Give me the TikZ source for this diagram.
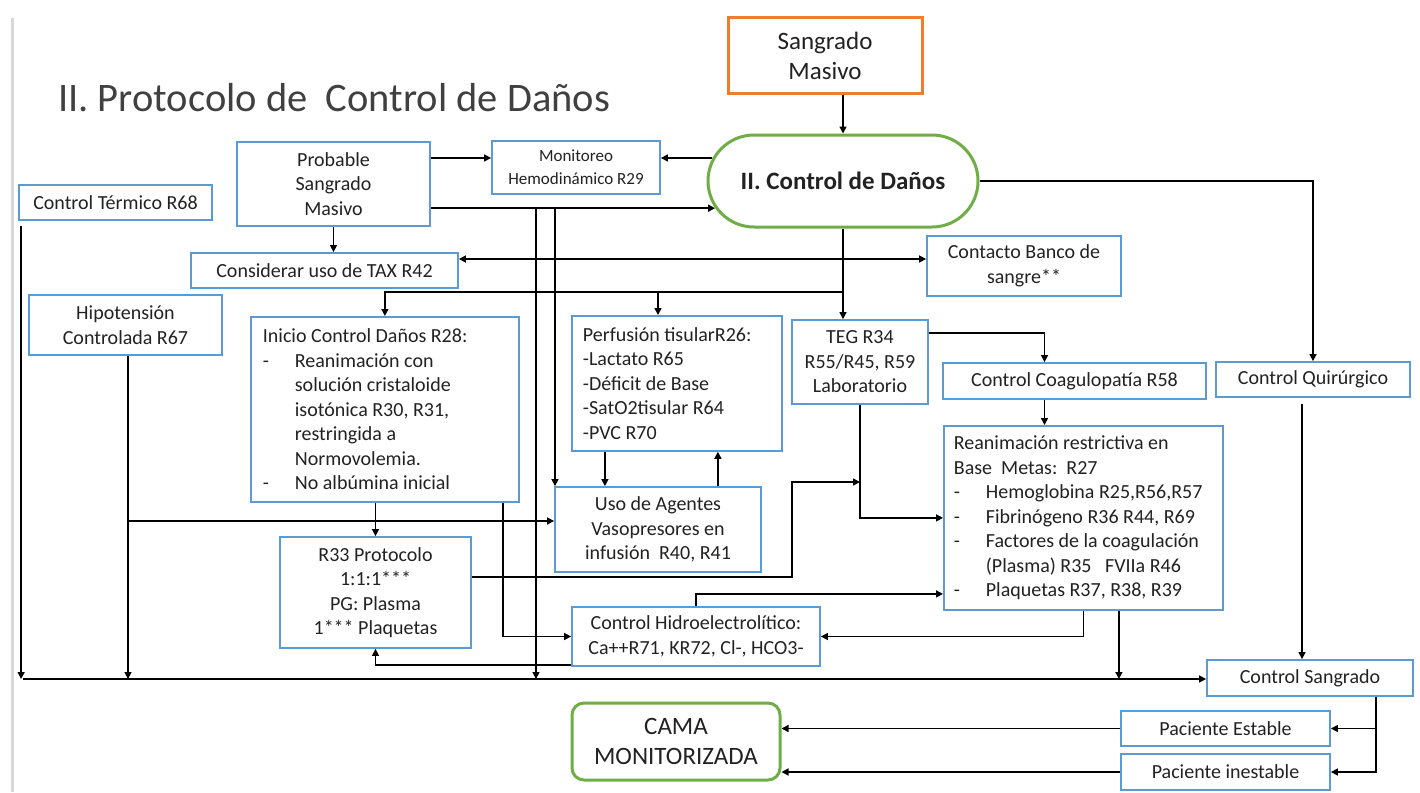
\documentclass[tikz,border=0pt]{standalone}
\usepackage{fontspec}
\setmainfont{Carlito}
\usepackage{tikz}
\usetikzlibrary{arrows.meta,positioning,shapes.misc}
\definecolor{frame}{HTML}{5B9BD5}
\definecolor{okgreen}{HTML}{70AD47}
\definecolor{alarm}{HTML}{ED7D31}
\definecolor{ink}{HTML}{222222}
\definecolor{heading}{HTML}{404040}
\definecolor{edge}{HTML}{D9D9D9}
\newcommand{\dashitem}{\makebox[32pt][l]{-}}
\newcommand{\listgap}{\hspace*{32pt}}

\begin{document}
\begin{tikzpicture}[
  x=1pt,y=-1pt,
  font=\fontsize{20}{24.5}\selectfont,
  text=ink,
  box/.style={draw=frame,line width=1.8pt,fill=white,align=center,inner sep=0pt},
  listbox/.style={box,align=flush left,anchor=north west,inner ysep=0pt},
  goal/.style={draw=okgreen,line width=3pt,fill=white,align=center,inner sep=0pt},
  flow/.style={-{Triangle[length=7pt,width=7pt]},line width=1.5pt,draw=black},
]
\fill[white] (0,0) rectangle (1420,792);
\useasboundingbox (0,0) rectangle (1420,792);
\draw[edge,line width=3pt] (12,18) -- (12,792);

% --- title and start
\node[anchor=base west,inner sep=0pt,text=heading,font=\fontsize{40.5}{44}\selectfont] (title) at (58,111) {II. Protocolo de\ \ Control de Daños};
\node[box,draw=alarm,line width=3pt,minimum width=194pt,minimum height=75pt,font=\fontsize{25}{30}\selectfont] (alerta) at (825,55.5) {Sangrado\\Masivo};
\node[goal,rounded rectangle,minimum width=270pt,minimum height=92pt,font=\fontsize{25}{30}\selectfont\bfseries] (dano) at (843,181) {II. Control de Daños};

% --- upper row
\node[box,minimum width=193pt,minimum height=35pt] (termico) at (115.5,202.5) {Control Térmico R68};
\node[box,minimum width=193pt,minimum height=84pt] (prob) at (333.5,184) {Probable\\Sangrado\\Masivo};
\node[box,minimum width=168pt,minimum height=53pt,font=\fontsize{17}{23}\selectfont] (monit) at (576,167.5) {Monitoreo\\Hemodinámico R29};
\node[box,minimum width=267pt,minimum height=35pt] (tax) at (324.5,270.5) {Considerar uso de TAX R42};
\node[box,minimum width=194pt,minimum height=60pt] (banco) at (1024,266) {Contacto Banco de\\sangre**};
\node[box,minimum width=193pt,minimum height=60pt] (hipo) at (125.5,325) {Hipotensión\\Controlada R67};

% --- middle
\node[listbox,inner xsep=12pt,text width=244pt,minimum height=185pt] (inicio) at (250,316)
  {Inicio Control Daños R28:\\
   \dashitem Reanimación con\\
   \listgap solución cristaloide\\
   \listgap isotónica R30, R31,\\
   \listgap restringida a\\
   \listgap Normovolemia.\\
   \dashitem No albúmina inicial};
\node[listbox,inner xsep=11pt,text width=188pt,minimum height=135pt] (perf) at (571,315)
  {Perfusión tisularR26:\\-Lactato R65\\-Déficit de Base\\-SatO2tisular R64\\-PVC R70};
\node[box,minimum width=136pt,minimum height=84pt] (teg) at (860,362) {TEG R34\\R55/R45, R59\\Laboratorio};
\node[box,minimum width=263pt,minimum height=36pt] (coag) at (1074.5,381) {Control Coagulopatía R58};
\node[box,minimum width=194pt,minimum height=35pt] (quir) at (1313,379.5) {Control Quirúrgico};
\node[listbox,inner xsep=10pt,text width=259pt,minimum height=184pt] (rean) at (943,425)
  {Reanimación restrictiva en\\
   Base\ \ Metas:\ \ R27\\
   \dashitem Hemoglobina R25,R56,R57\\
   \dashitem Fibrinógeno R36 R44, R69\\
   \dashitem Factores de la coagulación\\
   \listgap (Plasma) R35\ \ \ FVIIa R46\\
   \dashitem Plaquetas R37, R38, R39};
\node[box,minimum width=206pt,minimum height=85pt] (vaso) at (658,529.5) {Uso de Agentes\\Vasopresores en\\infusión\ \ R40, R41};
\node[box,minimum width=191pt,minimum height=111pt] (r33) at (375.5,592.5) {R33 Protocolo\\1:1:1***\\PG: Plasma\\1*** Plaquetas};
\node[box,minimum width=248pt,minimum height=59pt] (hidro) at (696,636.5) {Control Hidroelectrolítico:\\Ca++R71, KR72, Cl-, HCO3-};

% --- bottom
\node[box,minimum width=206pt,minimum height=36pt] (sang2) at (1310,678) {Control Sangrado};
\node[box,minimum width=209pt,minimum height=35pt] (estable) at (1225.5,728.5) {Paciente Estable};
\node[box,minimum width=209pt,minimum height=36pt] (inestable) at (1225.5,772) {Paciente inestable};
\node[goal,rounded corners=12pt,minimum width=208pt,minimum height=77pt,font=\fontsize{25}{30}\selectfont] (cama) at (676,741.5) {CAMA\\MONITORIZADA};

% --- junctions
\coordinate (base) at (23,679);
\coordinate (bus1) at (843,259);
\coordinate (bus2) at (843,292);
\coordinate (bus2p) at (658,292);
\coordinate (drop1) at (536,208);
\coordinate (drop2) at (555,208);
\coordinate (hyp) at (128,521);
\coordinate (kink) at (792,482);

% --- connectors
\draw[flow] (alerta.south -| dano.north) -- (dano.north);
\draw[flow] (dano.170) -- (dano.170 -| monit.east);
\draw[flow] (prob.east |- dano.170) -- (dano.170 -| monit.west);
\draw[flow] (prob.east |- dano.192) -- (dano.192);
\draw[flow] (prob.south) -- (prob.south |- tax.north);
\draw[flow] (dano.east) -| (quir.north);
\draw[flow] (dano.south) -- (dano.south |- teg.north);
\draw[flow] (bus1) -- (bus1 -| tax.east);
\draw[flow] (bus1) -- (bus1 -| banco.west);
\draw[flow] (bus2) -| (inicio.north);
\draw[flow] (bus2p) -- (bus2p |- perf.north);
\draw[flow] (drop1) -- (drop1 |- base);
\draw[flow] (drop2) -- (drop2 |- vaso.north);
\draw[flow,shorten <=5pt] ([xshift=3pt]termico.south west) -- ([xshift=3pt]termico.south west |- base);
\draw[flow] (hyp |- hipo.south) -- (hyp |- base);
\draw[flow] (hyp) -- (hyp -| vaso.west);
\draw[flow] ([xshift=-72pt]perf.south) -- ([xshift=-72pt]perf.south |- vaso.north);
\draw[flow] ([xshift=41pt]perf.south |- vaso.north) -- ([xshift=41pt]perf.south);
\draw[flow] (inicio.south -| r33.north) -- (r33.north);
\draw[flow] ([xshift=-17pt]inicio.south east) |- (hidro.west);
\draw[flow] ([yshift=2pt]hidro.south west) -| (r33.south);
\draw[flow] ([yshift=15.5pt]r33.east) -| (kink) -- (kink -| teg.south);
\draw[flow] (teg.south) |- (rean.west);
\draw[flow] ([yshift=-14pt]teg.north east) -| ([xshift=-30pt]coag.north);
\draw[flow] ([xshift=-30pt]coag.south) -- ([xshift=-30pt]coag.south |- rean.north);
\draw[flow] (hidro.north) |- ([yshift=-76pt]rean.west);
\draw[flow] (rean.south) |- (hidro.east);
\draw[flow] ([xshift=35.5pt]rean.south) -- ([xshift=35.5pt]rean.south |- base);
\draw[flow,shorten <=6pt] ([xshift=-11pt]quir.south) -- ([xshift=-11pt]quir.south |- sang2.north);
\draw[flow] (base) -- (base -| sang2.west);
\draw[flow] ([xshift=66pt]sang2.south) |- (estable.east);
\draw[flow] ([xshift=66pt]sang2.south) |- (inestable.east);
\draw[flow] (estable.west) -- (estable.west -| cama.east);
\draw[flow] (inestable.west) -- (inestable.west -| cama.east);
\end{tikzpicture}
\end{document}
